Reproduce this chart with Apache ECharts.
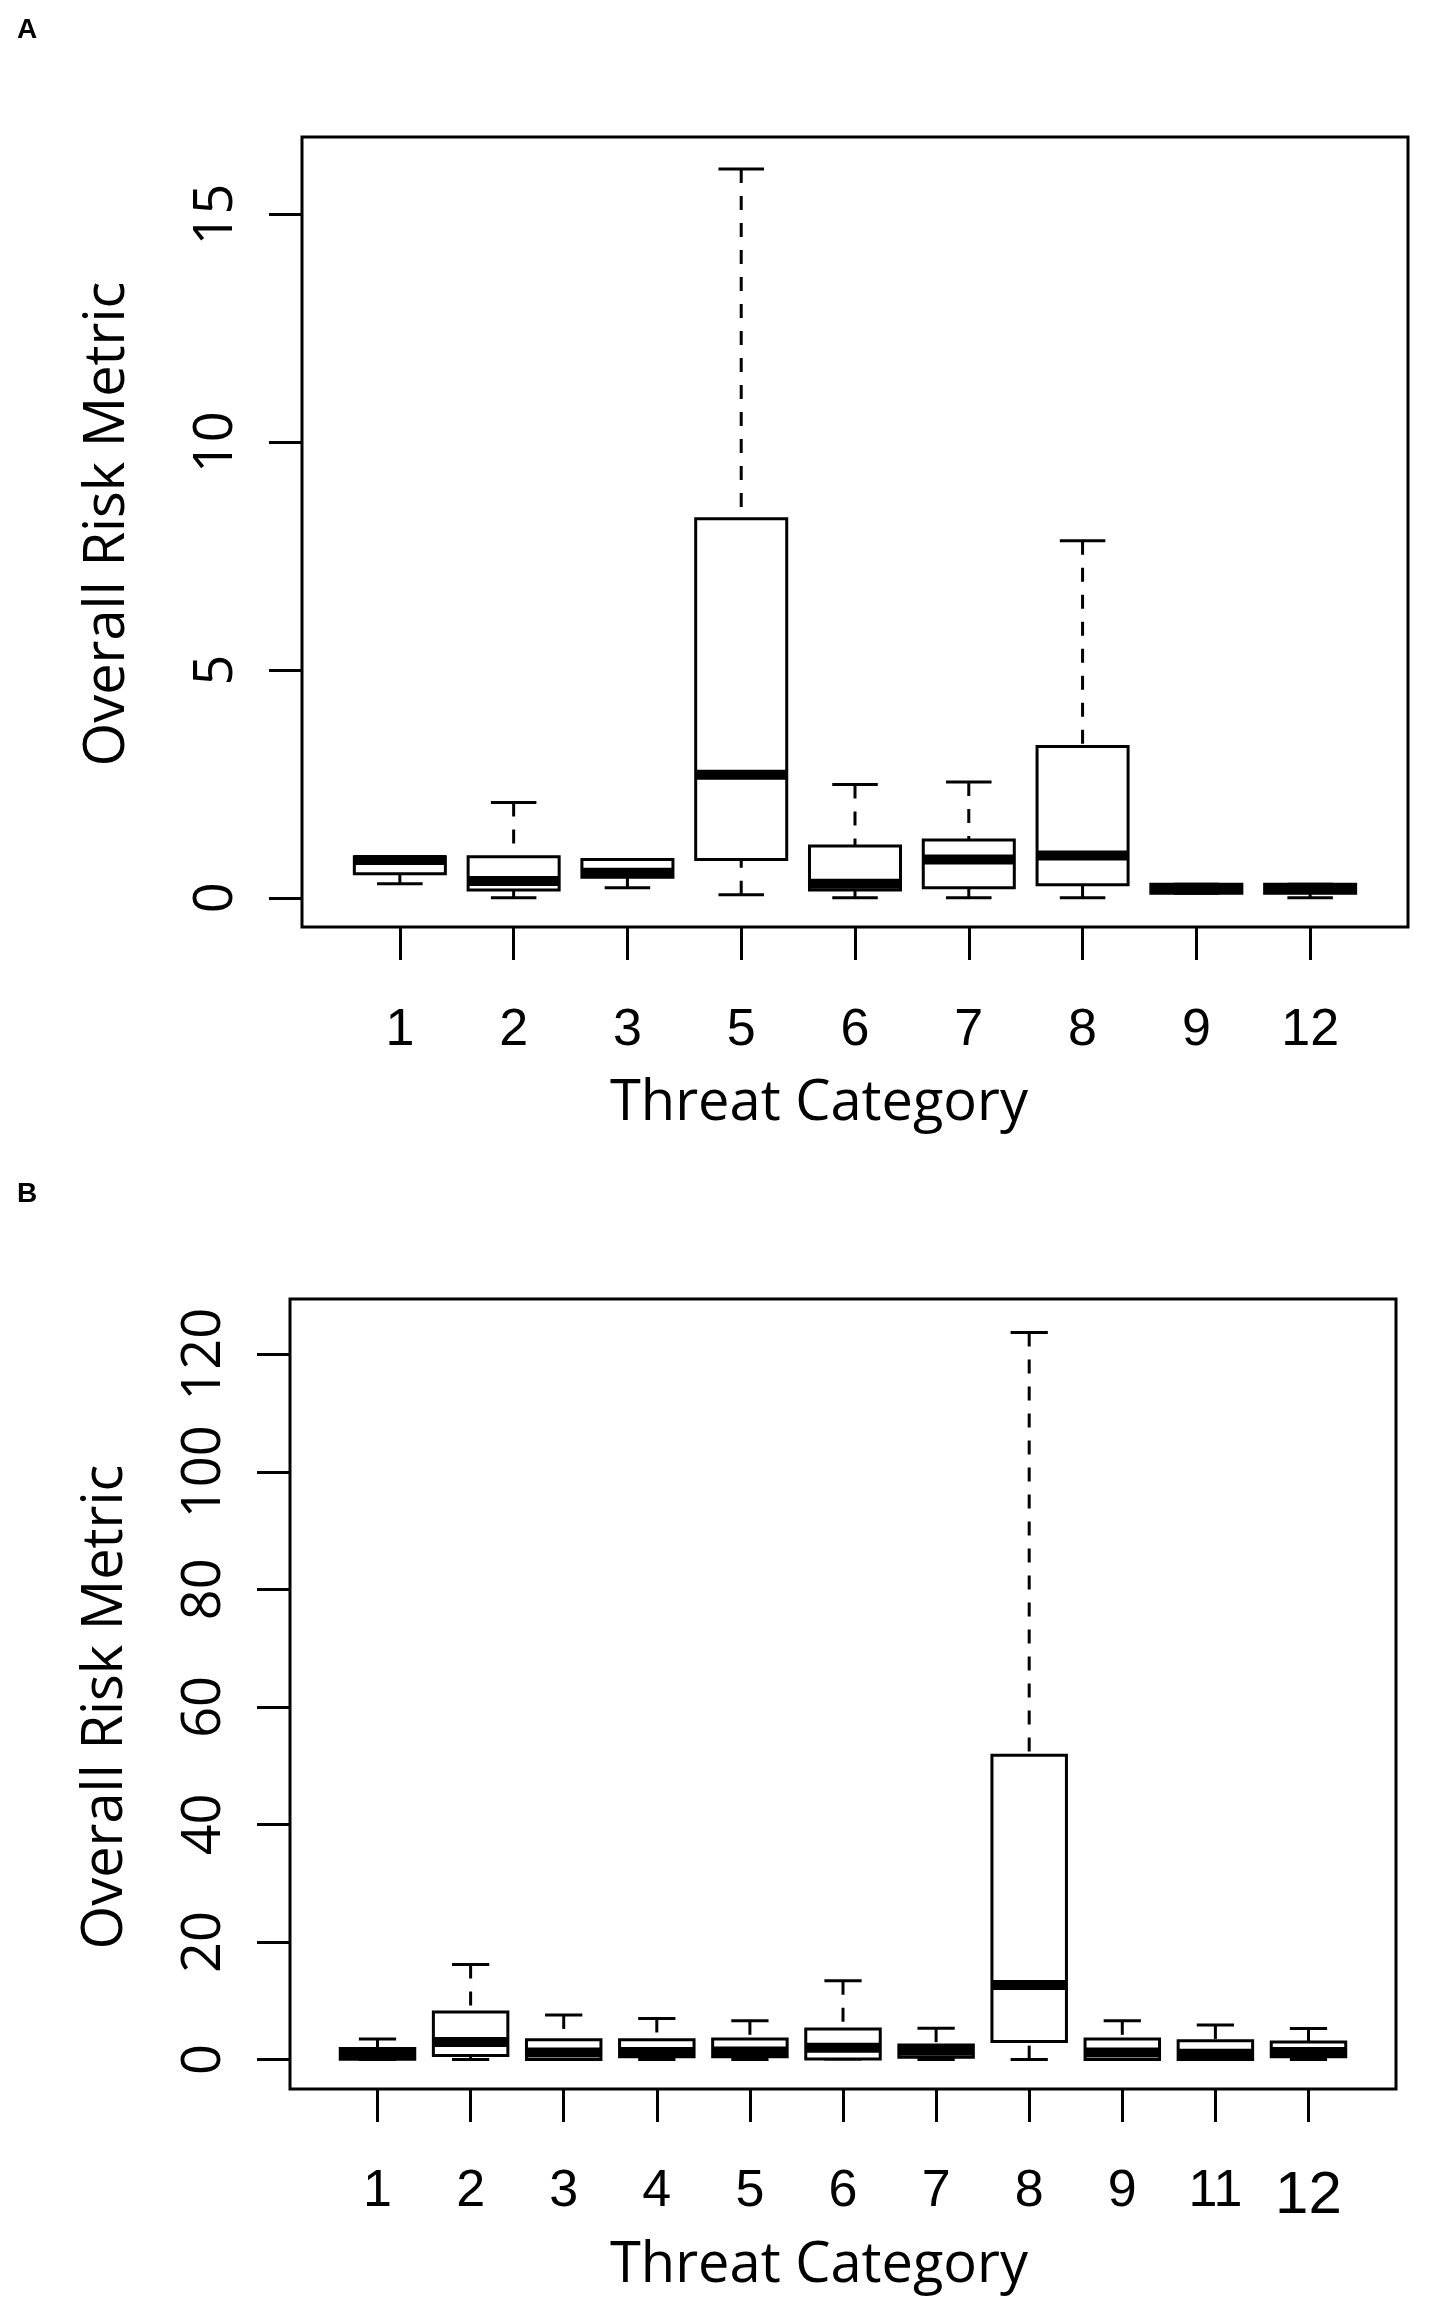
<!DOCTYPE html>
<html>
<head>
<meta charset="utf-8">
<script src="https://cdn.jsdelivr.net/npm/echarts@6/dist/echarts.min.js"></script>
<style>
  html, body { margin: 0; padding: 0; background: #fff; }
  #chart { width: 1450px; height: 2304px; }
</style>
</head>
<body>
<div id="chart"></div>
<script>
// panel A: threat categories and box stats [min, q1, median, q3, max]
var catsA = ['1', '2', '3', '5', '6', '7', '8', '9', '12'];
var statsA = [
    [0.31, 0.53, 0.83, 0.90, 0.90],
    [0.00, 0.17, 0.37, 0.90, 2.09],
    [0.22, 0.45, 0.55, 0.84, 0.84],
    [0.07, 0.84, 2.70, 8.32, 16.0],
    [0.00, 0.17, 0.31, 1.14, 2.49],
    [0.00, 0.22, 0.84, 1.27, 2.54],
    [0.00, 0.29, 0.93, 3.32, 7.84],
    [0.10, 0.10, 0.20, 0.30, 0.30],
    [0.00, 0.10, 0.20, 0.30, 0.30]
];
var yTicksA = [0, 5, 10, 15];

// panel B
var catsB = ['1', '2', '3', '4', '5', '6', '7', '8', '9', '11', '12'];
var statsB = [
    [0.0, 0.05, 0.9, 1.9, 3.5],
    [0.0, 0.7, 3.0, 8.1, 16.2],
    [0.0, 0.0, 1.2, 3.4, 7.6],
    [0.0, 0.5, 1.3, 3.4, 7.0],
    [0.0, 0.5, 1.4, 3.5, 6.6],
    [0.1, 0.1, 2.0, 5.2, 13.4],
    [0.0, 0.4, 1.5, 2.5, 5.35],
    [0.0, 3.1, 12.7, 51.8, 123.7],
    [0.0, 0.0, 1.2, 3.5, 6.6],
    [0.0, 0.0, 1.0, 3.2, 5.9],
    [0.0, 0.5, 1.3, 3.0, 5.3]
];
var yTicksB = [0, 20, 40, 60, 80, 100, 120];

function positions(cats) {
    return cats.map(function (c, i) { return i + 1; });
}
function withPos(stats) {
    return stats.map(function (s, i) { return [i + 1].concat(s); });
}

// R style boxplot: box 0.8 wide, staples 0.4, dashed whiskers, thick median
function renderBox(params, api) {
    var x = api.value(0);
    var lo = api.value(1), q1 = api.value(2), med = api.value(3), q3 = api.value(4), hi = api.value(5);
    var p = function (dx, v) { return api.coord([x + dx, v]); };
    var solid = { stroke: '#000', lineWidth: 3, fill: null };
    var dashed = { stroke: '#000', lineWidth: 3, lineDash: [14, 13], fill: null };
    var kids = [];
    function seg(a, b, style) {
        kids.push({ type: 'line', shape: { x1: a[0], y1: a[1], x2: b[0], y2: b[1] }, style: style });
    }
    if (hi > q3) seg(p(0, hi), p(0, q3), dashed);
    if (lo < q1) seg(p(0, lo), p(0, q1), dashed);
    seg(p(-0.2, hi), p(0.2, hi), solid);
    seg(p(-0.2, lo), p(0.2, lo), solid);
    var tl = p(-0.4, q3), br = p(0.4, q1);
    kids.push({
        type: 'rect',
        shape: { x: tl[0], y: tl[1], width: br[0] - tl[0], height: br[1] - tl[1] },
        style: { stroke: '#000', lineWidth: 3, fill: '#fff' }
    });
    seg(p(-0.4, med), p(0.4, med), { stroke: '#000', lineWidth: 10 });
    return { type: 'group', children: kids };
}

var tickFont = '"Liberation Sans Narrow", "Arial Narrow", "Liberation Sans", sans-serif';
var titleFont = '"Open Sans", "Noto Sans", sans-serif';

function xAxisFor(cats, min, max, gridIndex, margin) {
    var pos = positions(cats);
    return {
        type: 'value', gridIndex: gridIndex, min: min, max: max,
        axisLine: { show: false, onZero: false },
        splitLine: { show: false },
        axisTick: { show: true, customValues: pos, length: 33, lineStyle: { color: '#000', width: 3 } },
        axisLabel: {
            customValues: pos, margin: margin,
            fontFamily: tickFont, fontSize: 52, color: '#000',
            formatter: function (v) {
                var i = Math.round(v) - 1;
                if (gridIndex === 1 && i === cats.length - 1) return '{big|' + cats[i] + '}';
                return cats[i];
            },
            rich: { big: { fontFamily: tickFont, fontSize: 60, color: '#000' } }
        }
    };
}
function yAxisFor(ticks, min, max, gridIndex) {
    return {
        type: 'value', gridIndex: gridIndex, min: min, max: max,
        axisLine: { show: false, onZero: false },
        splitLine: { show: false },
        axisTick: { show: true, customValues: ticks, length: 33, lineStyle: { color: '#000', width: 3 } },
        axisLabel: {
            customValues: ticks, rotate: 90, margin: 58,
            fontFamily: titleFont, fontSize: 54, color: '#000'
        }
    };
}

var option = {
    backgroundColor: '#fff',
    animation: false,
    grid: [
        { left: 302, top: 137, width: 1106, height: 790, show: true, borderColor: '#000', borderWidth: 3 },
        { left: 290, top: 1299, width: 1106, height: 790, show: true, borderColor: '#000', borderWidth: 3 }
    ],
    xAxis: [
        xAxisFor(catsA, 0.14, 9.86, 0, 78),
        xAxisFor(catsB, 0.06, 11.94, 1, 77)
    ],
    yAxis: [
        yAxisFor(yTicksA, -0.64, 16.7, 0),
        yAxisFor(yTicksB, -5, 129.4, 1)
    ],
    graphic: [
        { type: 'text', x: 17, y: 30, style: { text: 'A', fontFamily: 'Liberation Sans', fontWeight: 'bold', fontSize: 28, fill: '#000', verticalAlign: 'middle' } },
        { type: 'text', x: 17, y: 1194, style: { text: 'B', fontFamily: 'Liberation Sans', fontWeight: 'bold', fontSize: 28, fill: '#000', verticalAlign: 'middle' } },
        { type: 'text', x: 819, y: 1104, style: { text: 'Threat Category', fontFamily: titleFont, fontSize: 56, fill: '#000', align: 'center', verticalAlign: 'middle' } },
        { type: 'text', x: 819, y: 2266, style: { text: 'Threat Category', fontFamily: titleFont, fontSize: 56, fill: '#000', align: 'center', verticalAlign: 'middle' } },
        { type: 'text', x: 108, y: 524, rotation: Math.PI / 2, style: { text: 'Overall Risk Metric', fontFamily: titleFont, fontSize: 56, fill: '#000', align: 'center', verticalAlign: 'middle' } },
        { type: 'text', x: 106, y: 1707, rotation: Math.PI / 2, style: { text: 'Overall Risk Metric', fontFamily: titleFont, fontSize: 56, fill: '#000', align: 'center', verticalAlign: 'middle' } }
    ],
    series: [
        {
            type: 'custom', xAxisIndex: 0, yAxisIndex: 0, clip: false,
            renderItem: renderBox,
            encode: { x: 0, y: [1, 2, 3, 4, 5] },
            data: withPos(statsA)
        },
        {
            type: 'custom', xAxisIndex: 1, yAxisIndex: 1, clip: false,
            renderItem: renderBox,
            encode: { x: 0, y: [1, 2, 3, 4, 5] },
            data: withPos(statsB)
        }
    ]
};

var chart = echarts.init(document.getElementById('chart'), null, { renderer: 'canvas' });
chart.setOption(option);
</script>
</body>
</html>
